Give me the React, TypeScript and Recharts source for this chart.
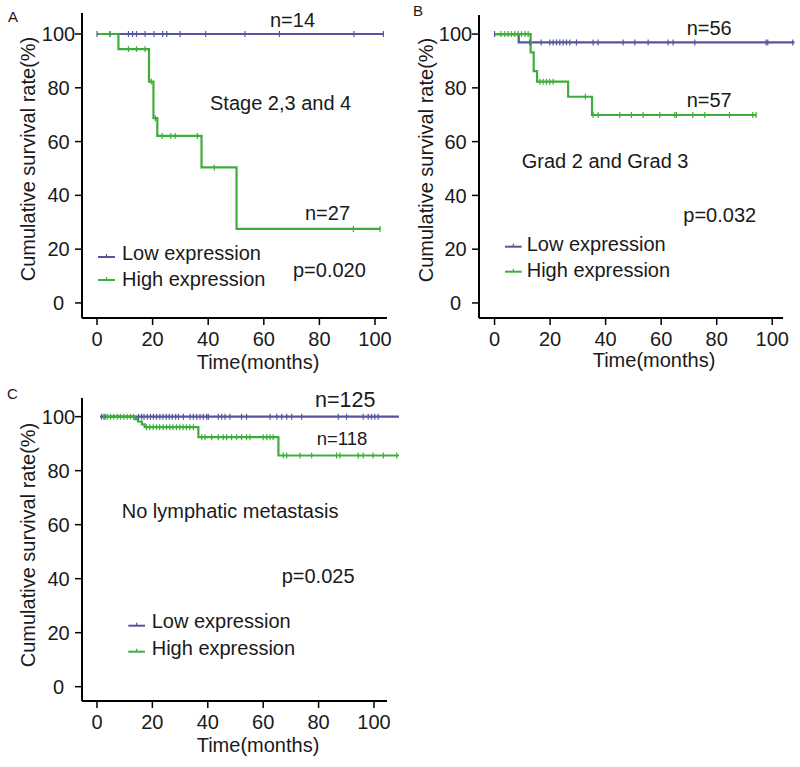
import React from "react";
import { ComposedChart, Line, Scatter, XAxis, YAxis, ReferenceLine, Label } from "recharts";

const FONT = '"Liberation Sans", Arial, Helvetica, sans-serif';
const LOW_COLOR = "#55559f";
const HIGH_COLOR = "#3fad3b";
const INK = "#1a1a1a";

const xTicks = [0, 20, 40, 60, 80, 100];
const yTicks = [0, 20, 40, 60, 80, 100];
const legendNames = ["Low expression", "High expression"];

// A - stage 2,3 and 4
const aLowTimes = [0, 103];
const aLowSurv = [100, 100];
const aLowCensor = [0, 4.7, 11.3, 12.8, 14.2, 17.3, 20.5, 23.6, 25.1, 29.9, 39.1, 53.2, 65.6, 92.4, 103];
const aHighTimes = [0, 7.7, 18.7, 20.3, 21.7, 37.6, 50.2, 102];
const aHighSurv = [100, 94.4, 82.3, 68.7, 62.1, 50.4, 27.5, 27.5];
const aHighCensor = [4.7, 11.3, 14.2, 17.3, 19.5, 21, 23.4, 26.5, 28.1, 36.1, 42.2, 92.2, 101.8];

// B - grad 2 and grad 3
const bLowTimes = [0, 8.7, 108];
const bLowSurv = [100, 96.9, 96.9];
const bLowCensor = [0, 12.7, 16.8, 19.9, 21.1, 22.3, 23.5, 24.7, 25.9, 27.1, 29.5, 35.5, 37.3, 46.3, 50.5, 55.3, 62.5, 64.3, 72.1, 97.8, 98.4, 107.4];
const bHighTimes = [0, 13, 14.1, 15.3, 26.5, 35.1, 94.2];
const bHighSurv = [100, 93.2, 86.2, 82.3, 76.7, 69.9, 69.9];
const bHighCensor = [2.3, 3.7, 4.9, 6.1, 7.3, 8.5, 9.7, 11, 12.1, 16.3, 17.5, 18.7, 19.9, 21.1, 32.7, 35.5, 37.3, 45.1, 49.3, 53.5, 59.5, 64.9, 65.5, 71.4, 75.7, 84.6, 93, 94.2];

// C - no lymphatic metastasis
const cLowTimes = [1.1, 109];
const cLowSurv = [100, 100];
const cLowCensor = [1.7, 2.9, 15, 16.1, 17, 18.2, 19.3, 20.4, 21.5, 22.7, 23.8, 25, 26.1, 27.2, 28.4, 29.4, 31.2, 33.6, 34.8, 36, 37.2, 38.4, 39.6, 40.2, 43.8, 45, 46.2, 48, 52.2, 54, 62.5, 64.9, 66.7, 68.5, 70.3, 73.9, 87.1, 90.1, 96.1, 97.9, 99.1, 100.3, 101.5];
const cHighTimes = [2.3, 13.7, 14.8, 16.2, 17.2, 36.6, 65.5, 109];
const cHighSurv = [100, 99.1, 98.2, 97.1, 96.1, 92.4, 85.6, 85.6];
const cHighCensor = [2.5, 3.7, 4.9, 6.1, 7.4, 8.5, 9.7, 10.9, 12.1, 13.2, 17.9, 19.1, 20.3, 21.5, 22.6, 23.9, 25.1, 26.3, 27.4, 28.7, 29.9, 31.1, 32.3, 33.5, 34.8, 37.8, 39, 41.4, 43.8, 45.6, 46.8, 48.6, 50.4, 52.2, 54, 55.2, 60, 61.3, 62.5, 63.6, 67.3, 68.5, 73.3, 77.5, 86.5, 87.7, 94.3, 96.1, 99.7, 103.4, 108.2];

type Pt = { t: number; s: number };

const toSteps = (times: number[], surv: number[]): Pt[] => times.map((t, i) => ({ t, s: surv[i] }));

const survAt = (times: number[], surv: number[], t: number) => {
  let s = surv[0];
  times.forEach((tt, i) => {
    if (tt <= t) s = surv[i];
  });
  return s;
};

const toMarks = (times: number[], surv: number[], censor: number[]): Pt[] =>
  censor.map((t) => ({ t, s: survAt(times, surv, t) }));

const censorShape = (color: string) => (props: any) => (
  <line x1={props.cx} x2={props.cx} y1={props.cy - 3} y2={props.cy + 3} stroke={color} strokeWidth={1.2} />
);

const XTick = (p: any) => (
  <text x={p.x} y={p.y} dy="0.71em" textAnchor="middle" fontSize={20} fill={INK} fontFamily={FONT}>
    {p.payload.value}
  </text>
);

const YTick = (p: any) => (
  <text x={p.x - 14.5} y={p.y} dy="0.355em" textAnchor="middle" fontSize={20} fill={INK} fontFamily={FONT}>
    {p.payload.value}
  </text>
);

const panels = [
  {
    key: "A",
    left: 0, top: 0, width: 410, height: 380,
    margin: { top: 13, right: 7.2, left: 22, bottom: 12 },
    xDomain: [-5.4, 110], yDomain: [-5.6, 107.8], xEnd: 104.3,
    low: toSteps(aLowTimes, aLowSurv), lowMarks: toMarks(aLowTimes, aLowSurv, aLowCensor),
    high: toSteps(aHighTimes, aHighSurv), highMarks: toMarks(aHighTimes, aHighSurv, aHighCensor),
    letter: [8, 21.5], xTitle: [258, 369], yTitle: [35, 159],
    notes: [
      { text: "n=14", x: 270, y: 27, size: 20 },
      { text: "Stage 2,3 and 4", x: 210, y: 110, size: 20 },
      { text: "n=27", x: 305, y: 220, size: 20 },
      { text: "p=0.020", x: 293, y: 276.5, size: 20 },
    ],
    legend: { x1: 98, x2: 115, tx: 122, rows: [[257, 260], [280, 286]] },
  },
  {
    key: "B",
    left: 400, top: 0, width: 400, height: 380,
    margin: { top: 15, right: 0, left: 19, bottom: 12 },
    xDomain: [-5.6, 110], yDomain: [-5.6, 107.1], xEnd: 103.9,
    low: toSteps(bLowTimes, bLowSurv), lowMarks: toMarks(bLowTimes, bLowSurv, bLowCensor),
    high: toSteps(bHighTimes, bHighSurv), highMarks: toMarks(bHighTimes, bHighSurv, bHighCensor),
    letter: [13, 15.5], xTitle: [254, 367], yTitle: [33, 160],
    notes: [
      { text: "n=56", x: 286.7, y: 35, size: 20 },
      { text: "n=57", x: 286.7, y: 106.5, size: 20 },
      { text: "Grad 2 and Grad 3", x: 121.7, y: 168.3, size: 20 },
      { text: "p=0.032", x: 283.3, y: 221.7, size: 20 },
    ],
    legend: { x1: 105, x2: 121.7, tx: 126.7, rows: [[246.7, 250.7], [271.7, 276.7]] },
  },
  {
    key: "C",
    left: 0, top: 385, width: 410, height: 382,
    margin: { top: 13, right: 8.3, left: 22, bottom: 16 },
    xDomain: [-5.4, 110], yDomain: [-5.3, 106.9], xEnd: 104.7,
    low: toSteps(cLowTimes, cLowSurv), lowMarks: toMarks(cLowTimes, cLowSurv, cLowCensor),
    high: toSteps(cHighTimes, cHighSurv), highMarks: toMarks(cHighTimes, cHighSurv, cHighCensor),
    letter: [7, 14], xTitle: [258, 367], yTitle: [35, 160],
    notes: [
      { text: "n=125", x: 315, y: 21.7, size: 21.5 },
      { text: "n=118", x: 316.7, y: 60, size: 18.5 },
      { text: "No lymphatic metastasis", x: 121.7, y: 133.3, size: 20 },
      { text: "p=0.025", x: 281.7, y: 198.3, size: 20 },
    ],
    legend: { x1: 128.3, x2: 145, tx: 151.7, rows: [[240.7, 243.3], [266.7, 270]] },
  },
];

function KMPanel({ cfg }: { cfg: any }) {
  return (
    <div style={{ position: "absolute", left: cfg.left, top: cfg.top, width: cfg.width, height: cfg.height }}>
      <ComposedChart width={cfg.width} height={cfg.height} margin={cfg.margin}>
        <XAxis
          type="number"
          dataKey="t"
          domain={cfg.xDomain}
          ticks={xTicks}
          interval={0}
          allowDataOverflow
          axisLine={false}
          tickLine={{ stroke: "#000", strokeWidth: 1.5 }}
          tickSize={7}
          tickMargin={7}
          tick={XTick}
          height={50}
        >
          <Label
            content={() => (
              <text x={cfg.xTitle[0]} y={cfg.xTitle[1]} textAnchor="middle" fontSize={20} fill={INK} fontFamily={FONT}>
                Time(months)
              </text>
            )}
          />
        </XAxis>
        <YAxis
          type="number"
          domain={cfg.yDomain}
          ticks={yTicks}
          interval={0}
          allowDataOverflow
          axisLine={{ stroke: "#000", strokeWidth: 2 }}
          tickLine={{ stroke: "#000", strokeWidth: 1.5 }}
          tickSize={7}
          tickMargin={2}
          tick={YTick}
          width={60}
        >
          <Label
            content={() => (
              <text
                x={cfg.yTitle[0]}
                y={cfg.yTitle[1]}
                textAnchor="middle"
                fontSize={20}
                fill={INK}
                fontFamily={FONT}
                transform={`rotate(-90, ${cfg.yTitle[0]}, ${cfg.yTitle[1]})`}
              >
                Cumulative survival rate(%)
              </text>
            )}
          />
        </YAxis>
        <ReferenceLine
          segment={[{ x: cfg.xDomain[0], y: cfg.yDomain[0] }, { x: cfg.xEnd, y: cfg.yDomain[0] }]}
          stroke="#000"
          strokeWidth={2}
        />
        <Line data={cfg.low} dataKey="s" type="stepAfter" stroke={LOW_COLOR} strokeWidth={2.2} dot={false} isAnimationActive={false} />
        <Scatter data={cfg.lowMarks} dataKey="s" shape={censorShape(LOW_COLOR)} isAnimationActive={false} />
        <Line data={cfg.high} dataKey="s" type="stepAfter" stroke={HIGH_COLOR} strokeWidth={2.2} dot={false} isAnimationActive={false} />
        <Scatter data={cfg.highMarks} dataKey="s" shape={censorShape(HIGH_COLOR)} isAnimationActive={false} />
      </ComposedChart>
      <svg
        width={cfg.width}
        height={cfg.height}
        style={{ position: "absolute", left: 0, top: 0, pointerEvents: "none" }}
        fontFamily={FONT}
        fill={INK}
      >
        <text x={cfg.letter[0]} y={cfg.letter[1]} fontSize={15}>{cfg.key}</text>
        {cfg.notes.map((n: any) => (
          <text key={n.text} x={n.x} y={n.y} fontSize={n.size}>{n.text}</text>
        ))}
        {legendNames.map((name, i) => {
          const color = i === 0 ? LOW_COLOR : HIGH_COLOR;
          const [ly, ty] = cfg.legend.rows[i];
          const mid = (cfg.legend.x1 + cfg.legend.x2) / 2;
          return (
            <g key={name}>
              <line x1={cfg.legend.x1} x2={cfg.legend.x2} y1={ly} y2={ly} stroke={color} strokeWidth={2} />
              <line x1={mid} x2={mid} y1={ly - 3} y2={ly} stroke={color} strokeWidth={1.2} />
              <text x={cfg.legend.tx} y={ty} fontSize={20}>{name}</text>
            </g>
          );
        })}
      </svg>
    </div>
  );
}

export default function App() {
  return (
    <div style={{ position: "absolute", left: 0, top: 0, width: 800, height: 767, background: "#fff" }}>
      {panels.map((p) => (
        <KMPanel key={p.key} cfg={p} />
      ))}
    </div>
  );
}
